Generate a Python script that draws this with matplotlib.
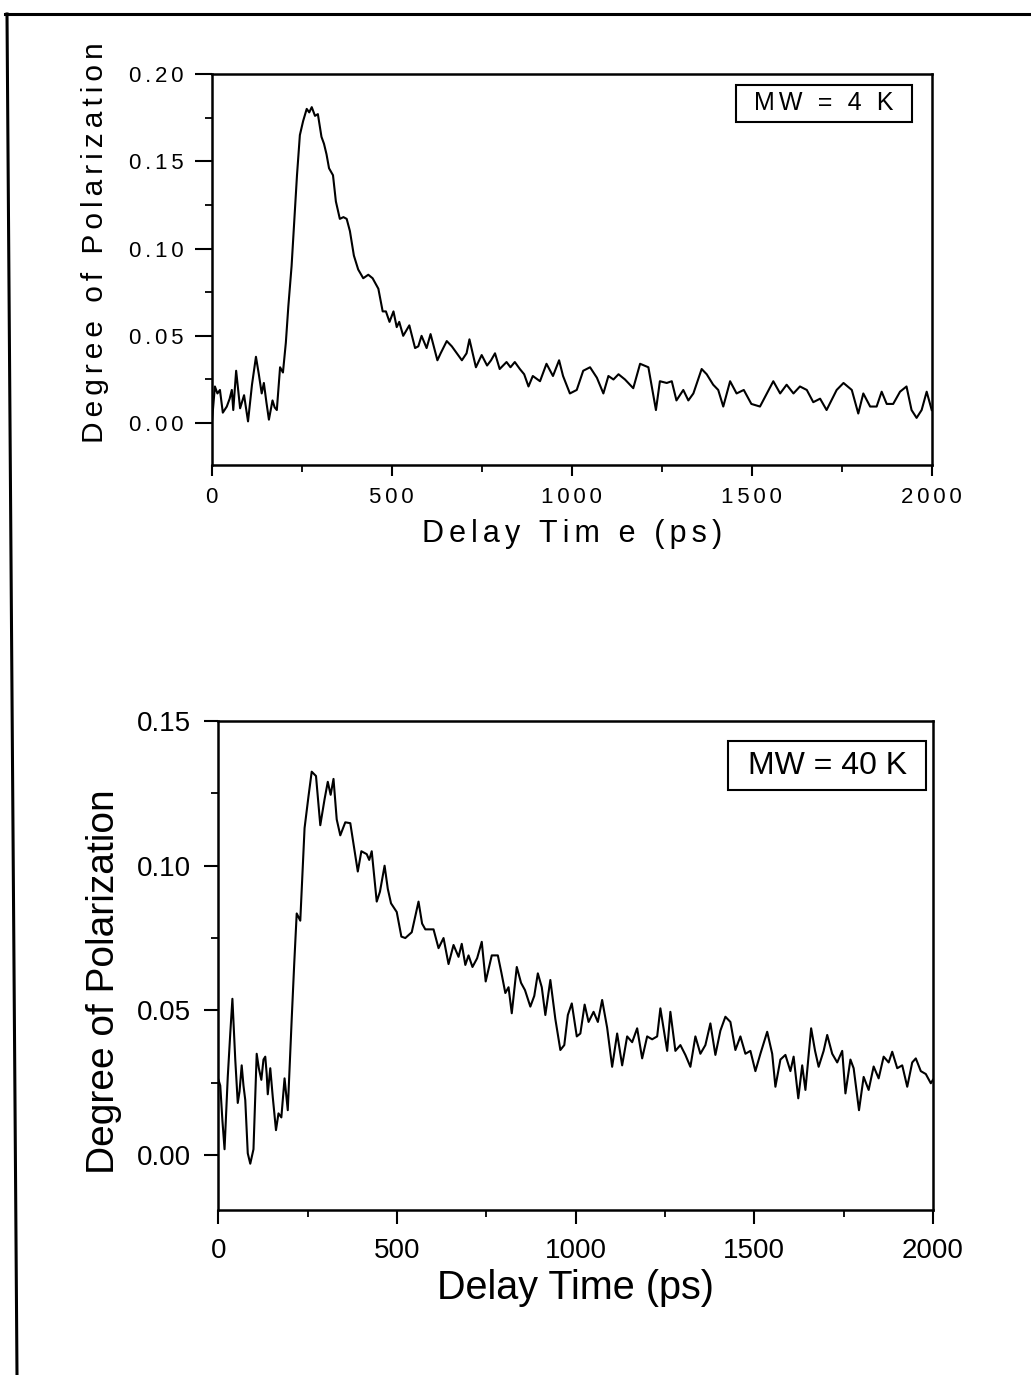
import matplotlib
matplotlib.use('Agg')
import matplotlib.pyplot as plt
from matplotlib.ticker import MultipleLocator
from matplotlib.lines import Line2D
from matplotlib.patches import Rectangle

plt.rcParams['font.family'] = ['Liberation Sans', 'DejaVu Sans']

# MW = 4 K trace
top_time = [0, 9, 16, 23, 31, 42, 50, 56, 60, 68, 79, 90, 101, 112, 123, 131, 139, 145,
            152, 159, 169, 175, 181, 190, 198, 206, 213, 222, 229, 237, 245, 254, 264,
            271, 278, 287, 295, 305, 312, 319, 326, 337, 345, 356, 366, 375, 384, 395,
            407, 421, 435, 447, 463, 475, 484, 494, 505, 514, 521, 532, 549, 565, 574,
            583, 597, 608, 618, 627, 636, 653, 667, 681, 695, 708, 716, 734, 750, 765,
            776, 787, 800, 819, 830, 842, 856, 868, 880, 892, 912, 930, 948, 965, 976,
            995, 1014, 1032, 1051, 1070, 1088, 1102, 1116, 1130, 1148, 1171, 1190, 1213,
            1234, 1245, 1264, 1278, 1291, 1310, 1324, 1338, 1361, 1375, 1393, 1407, 1421,
            1440, 1458, 1478, 1499, 1523, 1542, 1560, 1579, 1597, 1616, 1634, 1653, 1671,
            1690, 1708, 1736, 1755, 1778, 1796, 1810, 1829, 1847, 1861, 1875, 1893, 1912,
            1930, 1944, 1958, 1972, 1986, 2000]
top_pol = [-0.001, 0.021, 0.017, 0.019, 0.006, 0.0095, 0.014, 0.019, 0.0075, 0.030, 0.0085,
           0.016, 0.001, 0.022, 0.038, 0.028, 0.017, 0.023, 0.012, 0.002, 0.013, 0.009,
           0.0075, 0.032, 0.029, 0.046, 0.067, 0.090, 0.114, 0.142, 0.165, 0.173, 0.180,
           0.178, 0.181, 0.176, 0.177, 0.164, 0.160, 0.154, 0.146, 0.142, 0.127, 0.117,
           0.118, 0.117, 0.110, 0.096, 0.088, 0.083, 0.085, 0.083, 0.077, 0.064, 0.064,
           0.058, 0.064, 0.055, 0.058, 0.050, 0.056, 0.043, 0.044, 0.050, 0.043, 0.051,
           0.043, 0.036, 0.040, 0.047, 0.044, 0.040, 0.036, 0.040, 0.048, 0.032, 0.039,
           0.033, 0.036, 0.040, 0.031, 0.035, 0.032, 0.035, 0.031, 0.028, 0.021, 0.027,
           0.024, 0.034, 0.027, 0.036, 0.027, 0.017, 0.019, 0.030, 0.032, 0.026, 0.017,
           0.027, 0.025, 0.028, 0.025, 0.020, 0.034, 0.032, 0.0075, 0.024, 0.023, 0.024,
           0.013, 0.019, 0.013, 0.017, 0.031, 0.028, 0.022, 0.019, 0.0095, 0.024, 0.017,
           0.019, 0.011, 0.0095, 0.017, 0.024, 0.017, 0.022, 0.017, 0.021, 0.019, 0.012,
           0.014, 0.0075, 0.019, 0.023, 0.019, 0.0055, 0.017, 0.0095, 0.0095, 0.018, 0.011,
           0.011, 0.018, 0.021, 0.0075, 0.003, 0.0075, 0.018, 0.0075]

# MW = 40 K trace (lower panel)
bot_time = [0, 5, 11, 17, 26, 33, 39, 47, 54, 59, 65, 70, 75, 82, 89, 98, 107, 113, 120,
            126, 131, 135, 138, 145, 152, 161, 168, 176, 185, 194, 205, 212, 219, 229,
            241, 252, 261, 273, 285, 297, 306, 314, 322, 331, 341, 355, 369, 380, 390,
            400, 415, 422, 429, 443, 452, 465, 474, 483, 499, 512, 523, 541, 560, 570,
            579, 602, 616, 630, 644, 658, 672, 681, 691, 700, 711, 724, 737, 748, 765,
            782, 792, 803, 812, 821, 835, 847, 858, 873, 884, 894, 905, 915, 929, 943,
            957, 968, 978, 989, 1003, 1013, 1025, 1036, 1050, 1062, 1074, 1088, 1102,
            1116, 1130, 1144, 1158, 1172, 1186, 1200, 1214, 1228, 1237, 1256, 1265, 1279,
            1293, 1307, 1321, 1335, 1349, 1363, 1377, 1391, 1405, 1419, 1433, 1447, 1461,
            1475, 1489, 1503, 1517, 1536, 1550, 1559, 1573, 1587, 1601, 1610, 1623, 1634,
            1643, 1659, 1670, 1680, 1694, 1704, 1718, 1732, 1746, 1755, 1769, 1778, 1793,
            1806, 1820, 1834, 1848, 1862, 1876, 1886, 1900, 1914, 1928, 1942, 1952, 1966,
            1980, 1994, 2000]
bot_pol = [0.026, 0.024, 0.012, 0.002, 0.027, 0.042, 0.054, 0.033, 0.018, 0.022, 0.031,
           0.024, 0.019, 0.0006, -0.003, 0.002, 0.035, 0.030, 0.026, 0.033, 0.034, 0.028,
           0.021, 0.030, 0.020, 0.0086, 0.0144, 0.013, 0.0265, 0.0155, 0.047, 0.066,
           0.0835, 0.081, 0.113, 0.124, 0.1325, 0.131, 0.114, 0.123, 0.129, 0.1245, 0.130,
           0.116, 0.1105, 0.115, 0.1147, 0.106, 0.098, 0.105, 0.104, 0.102, 0.105, 0.0876,
           0.091, 0.100, 0.092, 0.087, 0.084, 0.0755, 0.075, 0.077, 0.0876, 0.080, 0.078,
           0.078, 0.0715, 0.075, 0.066, 0.0726, 0.0685, 0.073, 0.0657, 0.069, 0.065, 0.068,
           0.0737, 0.060, 0.069, 0.069, 0.063, 0.056, 0.058, 0.049, 0.065, 0.0595, 0.057,
           0.0513, 0.055, 0.0628, 0.058, 0.0484, 0.0605, 0.047, 0.0363, 0.038, 0.0484,
           0.0524, 0.041, 0.042, 0.052, 0.046, 0.0495, 0.046, 0.0536, 0.044, 0.0305, 0.042,
           0.031, 0.041, 0.039, 0.0438, 0.0334, 0.041, 0.040, 0.041, 0.0507, 0.036, 0.0495,
           0.036, 0.038, 0.0346, 0.0305, 0.041, 0.035, 0.038, 0.0455, 0.0346, 0.043, 0.0478,
           0.046, 0.0363, 0.041, 0.035, 0.036, 0.029, 0.035, 0.0426, 0.035, 0.0236, 0.033,
           0.0346, 0.029, 0.034, 0.0196, 0.031, 0.0225, 0.0438, 0.036, 0.0305, 0.036,
           0.0415, 0.035, 0.032, 0.036, 0.0213, 0.033, 0.030, 0.0155, 0.027, 0.0225, 0.0306,
           0.0265, 0.034, 0.032, 0.0357, 0.030, 0.031, 0.0236, 0.032, 0.0334, 0.029, 0.028,
           0.0248, 0.026]

x_ticks = [0, 500, 1000, 1500, 2000]
top_yticks = [0.00, 0.05, 0.10, 0.15, 0.20]
bot_yticks = [0.00, 0.05, 0.10, 0.15]


def spaced(s):
    # the upper panel was typeset with wide letter spacing
    return '\u2006'.join(s)


def style_axis(ax, lw):
    for sp in ax.spines.values():
        sp.set_linewidth(lw)
    ax.xaxis.set_minor_locator(MultipleLocator(250))
    ax.yaxis.set_minor_locator(MultipleLocator(0.025))
    ax.tick_params(which='major', direction='out', width=1.5, top=False, right=False)
    ax.tick_params(which='minor', direction='out', width=1.3, length=5, top=False, right=False)


fig = plt.figure(figsize=(10.31, 13.75), dpi=100)

# page frame left over from the scan
fig.add_artist(Line2D([5 / 1031, 1.0], [1 - 14 / 1375, 1 - 14 / 1375],
                      transform=fig.transFigure, color='black', lw=2.2))
fig.add_artist(Line2D([7 / 1031, 17 / 1031], [1 - 14 / 1375, 0.0],
                      transform=fig.transFigure, color='black', lw=2.2))

# upper panel
ax1 = fig.add_axes([0.2053, 0.6618, 0.6984, 0.2844])
ax1.plot(top_time, top_pol, color='black', lw=1.5)
ax1.set_xlim(0, 2000)
ax1.set_ylim(-0.024, 0.20)
style_axis(ax1, 1.8)
ax1.tick_params(which='major', axis='y', length=12, pad=8, labelsize=16)
ax1.tick_params(which='major', axis='x', length=8, pad=8, labelsize=16)
ax1.set_xticks(x_ticks)
ax1.set_xticklabels([spaced(str(t)) for t in x_ticks])
ax1.set_yticks(top_yticks)
ax1.set_yticklabels([spaced('%.2f' % v) for v in top_yticks])
ax1.set_xlabel(spaced('Delay Tim e (ps)'), fontsize=22, labelpad=8)
ax1.set_ylabel(spaced('Degree of Polarization'), fontsize=21.5)
ax1.yaxis.set_label_coords(-0.142, 0.57)
ax1.add_patch(Rectangle((0.728, 0.877), 0.244, 0.095, transform=ax1.transAxes,
                        fill=False, ec='black', lw=1.5))
ax1.text(0.85, 0.925, spaced('MW = 4 K'), transform=ax1.transAxes,
         ha='center', va='center', fontsize=18)

# lower panel
ax2 = fig.add_axes([0.2119, 0.12, 0.693, 0.3556])
ax2.plot(bot_time, bot_pol, color='black', lw=1.5)
ax2.set_xlim(0, 2000)
ax2.set_ylim(-0.019, 0.15)
style_axis(ax2, 1.8)
ax2.tick_params(which='major', length=10, pad=10, labelsize=20)
ax2.set_xticks(x_ticks)
ax2.set_yticks(bot_yticks)
ax2.set_yticklabels(['%.2f' % v for v in bot_yticks])
ax2.set_xlabel('Delay Time (ps)', fontsize=28.5, labelpad=4)
ax2.set_ylabel('Degree of Polarization', fontsize=28)
ax2.yaxis.set_label_coords(-0.135, 0.466)
ax2.add_patch(Rectangle((0.713, 0.859), 0.277, 0.10, transform=ax2.transAxes,
                        fill=False, ec='black', lw=1.5))
ax2.text(0.852, 0.909, 'MW = 40 K', transform=ax2.transAxes,
         ha='center', va='center', fontsize=23)

fig.savefig('out.png', dpi=100)
